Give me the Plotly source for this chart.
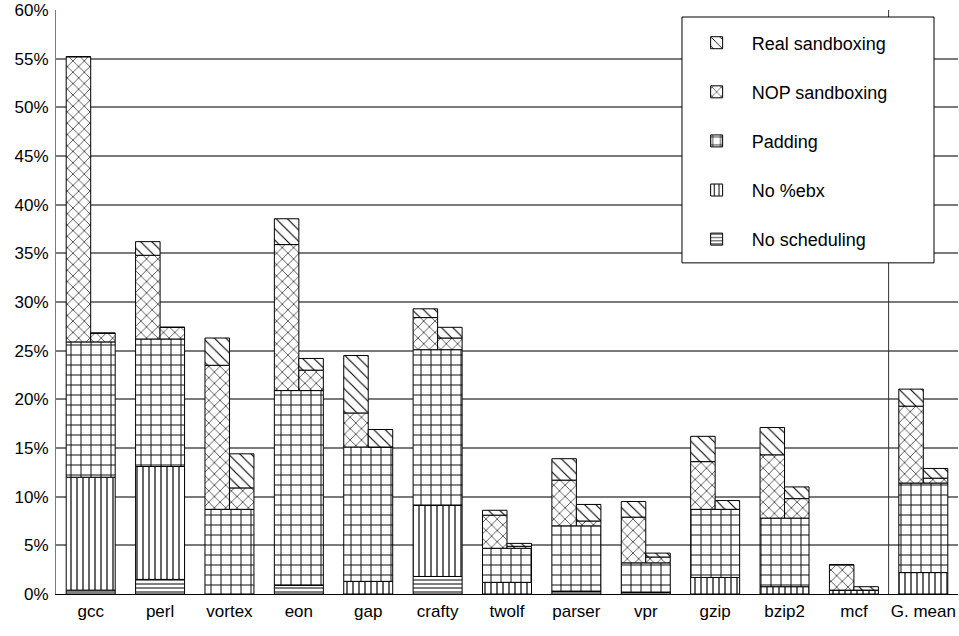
import numpy as np
import plotly.graph_objects as go

categories = ["gcc", "perl", "vortex", "eon", "gap", "crafty", "twolf",
              "parser", "vpr", "gzip", "bzip2", "mcf", "G. mean"]

# shared lower part of each bar (percent overhead)
no_scheduling = [0.4, 1.5, 0.0, 0.9, 0.0, 1.8, 0.0, 0.3, 0.2, 0.0, 0.0, 0.0, 0.0]
no_ebx        = [11.6, 11.6, 0.0, 0.0, 1.3, 7.3, 1.2, 0.0, 0.0, 1.7, 0.75, 0.4, 2.2]
padding       = [13.9, 13.1, 8.7, 20.0, 13.8, 16.0, 3.5, 6.7, 3.0, 7.0, 7.05, 0.0, 9.2]

# upper part, left column
nop_left  = [29.3, 8.6, 14.8, 15.0, 3.5, 3.3, 3.4, 4.7, 4.7, 4.9, 6.5, 2.6, 7.9]
real_left = [0.0, 1.4, 2.8, 2.65, 5.9, 0.9, 0.5, 2.2, 1.6, 2.6, 2.8, 0.0, 1.75]

# upper part, right column
nop_right  = [0.9, 1.2, 2.2, 2.1, 0.0, 1.2, 0.2, 0.5, 0.6, 0.0, 2.0, 0.0, 0.5]
real_right = [0.0, 0.0, 3.5, 1.2, 1.8, 1.1, 0.3, 1.7, 0.4, 0.9, 1.2, 0.35, 1.0]

y_ticks = list(range(0, 61, 5))

FONT = "Liberation Sans, Arial, sans-serif"
xpos = np.arange(len(categories))
W = 0.706
HALF = W / 2

styles = {
    "No scheduling":   dict(shape="-", size=4, solidity=0.25),
    "No %ebx":         dict(shape="|", size=6, solidity=0.2),
    "Padding":         dict(shape="+", size=10, solidity=0.18),
    "NOP sandboxing":  dict(shape="x", size=8, solidity=0.15),
    "Real sandboxing": dict(shape="\\", size=8, solidity=0.14),
}
rank = {"Real sandboxing": 1, "NOP sandboxing": 2, "Padding": 3,
        "No %ebx": 4, "No scheduling": 5}


def marker(name):
    s = styles[name]
    return dict(color="white", line=dict(color="black", width=1),
                pattern=dict(shape=s["shape"], size=s["size"], solidity=s["solidity"],
                             fgcolor="black", bgcolor="white", fgopacity=1))


fig = go.Figure()

ns = np.array(no_scheduling)
eb = np.array(no_ebx)
pd_ = np.array(padding)
base_lower = ns + eb + pd_

lower = [("No scheduling", ns, np.zeros_like(ns)),
         ("No %ebx", eb, ns),
         ("Padding", pd_, ns + eb)]
for name, vals, base in lower:
    fig.add_trace(go.Bar(x=xpos, y=vals, base=base, width=W, offset=-HALF,
                         name=name, legendgroup=name, legendrank=rank[name],
                         marker=marker(name)))

nl, rl = np.array(nop_left), np.array(real_left)
nr, rr = np.array(nop_right), np.array(real_right)
upper = [("NOP sandboxing", nl, base_lower, -HALF, True),
         ("Real sandboxing", rl, base_lower + nl, -HALF, True),
         ("NOP sandboxing", nr, base_lower, 0.0, False),
         ("Real sandboxing", rr, base_lower + nr, 0.0, False)]
for name, vals, base, off, show in upper:
    fig.add_trace(go.Bar(x=xpos, y=vals, base=base, width=HALF, offset=off,
                         name=name, legendgroup=name, legendrank=rank[name],
                         showlegend=show, marker=marker(name)))

# separator before the geometric mean group
fig.add_shape(type="line", xref="x", yref="paper", x0=len(categories) - 1.5,
              x1=len(categories) - 1.5, y0=0, y1=1,
              line=dict(color="#333333", width=1))
# legend frame
fig.add_shape(type="rect", xref="paper", yref="paper", x0=0.694, x1=0.9734,
              y0=0.567, y1=0.988, layer="above",
              fillcolor="white", line=dict(color="black", width=1))

fig.update_layout(
    width=959, height=636,
    barmode="overlay",
    plot_bgcolor="white", paper_bgcolor="white",
    margin=dict(l=56, r=1, t=7, b=42),
    font=dict(family=FONT, size=17, color="black"),
    showlegend=True,
    legend=dict(x=0.6936, y=0.9885, xanchor="left", yanchor="top",
                bgcolor="rgba(0,0,0,0)", borderwidth=0,
                traceorder="grouped", tracegroupgap=22.7, itemwidth=60,
                title=dict(text=" ", font=dict(size=6)),
                font=dict(family=FONT, size=18)),
    xaxis=dict(range=[-0.5, len(categories) - 0.5], tickvals=xpos, ticktext=categories,
               showgrid=False, zeroline=False, showline=True, linecolor="black",
               linewidth=1, ticks="", ticklabelstandoff=2,
               tickfont=dict(family=FONT, size=17)),
    yaxis=dict(range=[0, 60], tickvals=y_ticks, ticktext=[f"{v}%" for v in y_ticks],
               showgrid=True, gridcolor="#7a7a7a", gridwidth=1.5, zeroline=False,
               showline=True, linecolor="#7a7a7a", linewidth=1, ticks="",
               ticklabelstandoff=3, ticklabeloverflow="allow",
               tickfont=dict(family=FONT, size=17)),
)

fig.write_html("out.html", config={"displayModeBar": False},
               post_script="document.body.style.margin='0px';"
                           "document.body.style.overflow='hidden';")
